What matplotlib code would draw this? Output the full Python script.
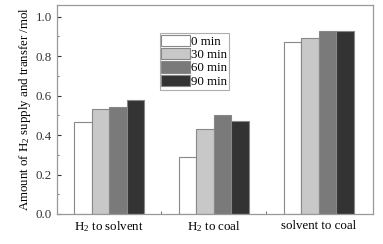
import matplotlib
matplotlib.use("Agg")
import matplotlib.pyplot as plt
import numpy as np
from matplotlib.ticker import MultipleLocator

plt.rcParams['font.family'] = ['Liberation Serif', 'DejaVu Serif']
plt.rcParams['mathtext.fontset'] = 'custom'
plt.rcParams['mathtext.rm'] = 'Liberation Serif'
plt.rcParams['mathtext.it'] = 'Liberation Serif'

categories = [r'H$_2$ to solvent', r'H$_2$ to coal', 'solvent to coal']
series_names = ['0 min', '30 min', '60 min', '90 min']
v0 = [0.465, 0.29, 0.87]
v30 = [0.53, 0.43, 0.89]
v60 = [0.54, 0.50, 0.93]
v90 = [0.58, 0.47, 0.93]
colors = ['#ffffff', '#c8c8c8', '#7a7a7a', '#333333']

fs = 9.3
fig = plt.figure(figsize=(3.83, 2.44), dpi=100)
ax = fig.add_axes([0.148, 0.123, 0.826, 0.857])

x = np.arange(1, len(categories) + 1)
w = 0.167
for i, (vals, name) in enumerate(zip([v0, v30, v60, v90], series_names)):
    ax.bar(x + (i - 1.5) * w, vals, w, color=colors[i], edgecolor='#888888',
           linewidth=0.8, label=name)

ax.set_xlim(0.5, 3.52)
ax.set_ylim(0, 1.06)
ax.set_xticks(x)
ax.set_xticklabels(categories, fontsize=fs)
ax.set_xticks([1.5, 2.5], minor=True)
ax.tick_params(axis='x', which='major', length=0, pad=4)
ax.tick_params(axis='x', which='minor', length=2, direction='in', color='#555555')
ax.yaxis.set_major_locator(MultipleLocator(0.2))
ax.yaxis.set_minor_locator(MultipleLocator(0.1))
ax.yaxis.set_major_formatter(plt.FormatStrFormatter('%.1f'))
ax.tick_params(axis='y', which='major', direction='in', length=3, labelsize=fs,
               color='#333333', labelcolor='#333333')
ax.tick_params(axis='y', which='minor', direction='in', length=1.5, color='#555555')
ax.set_ylabel(r'Amount of H$_2$ supply and transfer /mol', fontsize=fs, labelpad=2)
for s in ax.spines.values():
    s.set_color('#999999')
    s.set_linewidth(0.9)

leg = ax.legend(loc='upper left', bbox_to_anchor=(0.325, 0.866), fontsize=fs,
                frameon=True, fancybox=False, edgecolor='#999999',
                handlelength=2.2, handleheight=0.95, handletextpad=0.1,
                labelspacing=0.02, borderpad=0.15, borderaxespad=0)
leg.get_frame().set_linewidth(0.8)

fig.savefig('out.png', dpi=100)
